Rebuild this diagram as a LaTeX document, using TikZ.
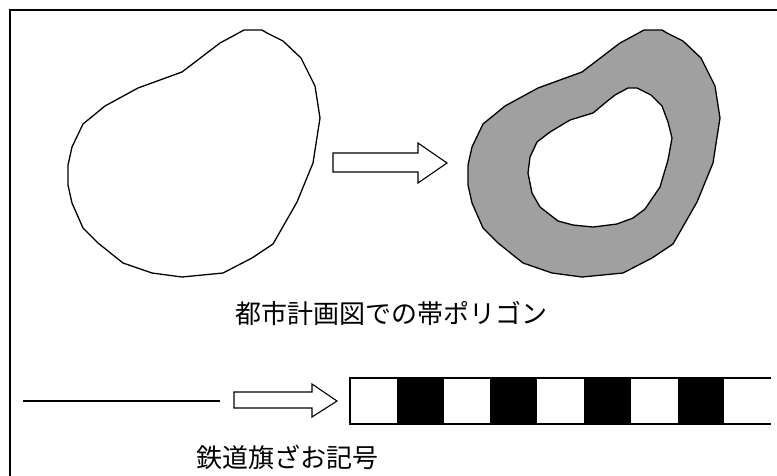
\documentclass[tikz,border=0pt]{standalone}
\usepackage{fontspec}
\newfontfamily\jpfont{Noto Sans CJK JP}
\definecolor{bandgray}{HTML}{A0A0A0}
\begin{document}
\begin{tikzpicture}[x=1pt,y=-1pt,
  outline/.style={draw=black,line width=1.3pt,line join=round},
  blockarrow/.style={draw=black,line width=1.1pt,fill=white,line join=miter},
  caption/.style={font=\jpfont\fontsize{26}{30}\selectfont,inner sep=0pt}]
\useasboundingbox (0,0) rectangle (777,475);
\begin{scope}
\clip (0,0) rectangle (777,475);
\draw[line width=1.8pt] (10,10) rectangle (790,490);
\end{scope}
\def\blob{(244,30) -- (262,30) -- (267,33) -- (283,41) -- (301,58) -- (315,86) -- (320,118) -- (313,163) -- (297,202) -- (273,244) -- (252,258) -- (223,273) -- (182,277) -- (152,273) -- (123,263) -- (98,243) -- (83,228) -- (72,203) -- (68,185) -- (68,165) -- (72,147) -- (83,124) -- (105,106) -- (138,88) -- (182,72) -- (220,43) -- (233,36) -- cycle}
% left polygon
\draw[outline] \blob;
% right band polygon
\begin{scope}[xshift=400pt]
\path[fill=bandgray,even odd rule] \blob
  (228,88) -- (237,88) -- (251,95) -- (262,106) -- (268,122) -- (272,138) -- (268,160) -- (260,187) -- (245,209) -- (233,218) -- (217,224) -- (193,227) -- (173,225) -- (158,221) -- (140,207) -- (132,193) -- (128,173) -- (130,157) -- (137,142) -- (150,132) -- (170,120) -- (193,113) -- (205,103) -- (215,95) -- cycle;
\draw[outline] \blob;
\draw[outline] (228,88) -- (237,88) -- (251,95) -- (262,106) -- (268,122) -- (272,138) -- (268,160) -- (260,187) -- (245,209) -- (233,218) -- (217,224) -- (193,227) -- (173,225) -- (158,221) -- (140,207) -- (132,193) -- (128,173) -- (130,157) -- (137,142) -- (150,132) -- (170,120) -- (193,113) -- (205,103) -- (215,95) -- cycle;
\end{scope}
% arrow 1
\draw[blockarrow] (333,153) -- (418,153) -- (418,143) -- (447,163) -- (418,183) -- (418,172) -- (333,172) -- cycle;
\node[caption] (cap1) at (391,313) {都市計画図での帯ポリゴン};
% railway: plain line
\coordinate (l1) at (23,401);
\coordinate (l2) at (220,401);
\draw[line width=1.2pt] (l1) -- (l2);
% arrow 2
\draw[blockarrow] (234,392) -- (312,392) -- (312,384) -- (337,401) -- (312,417) -- (312,408) -- (234,408) -- cycle;
% flag-pole symbol
\foreach \i in {1,3,5,7}{
  \fill[black] ({350+\i*46.8},378) rectangle ({350+(\i+1)*46.8},424);
}
\draw[line width=1.2pt] (771,378) -- (350,378) -- (350,424) -- (771,424);
\node[caption] (cap2) at (287,457) {鉄道旗ざお記号};
\end{tikzpicture}
\end{document}
